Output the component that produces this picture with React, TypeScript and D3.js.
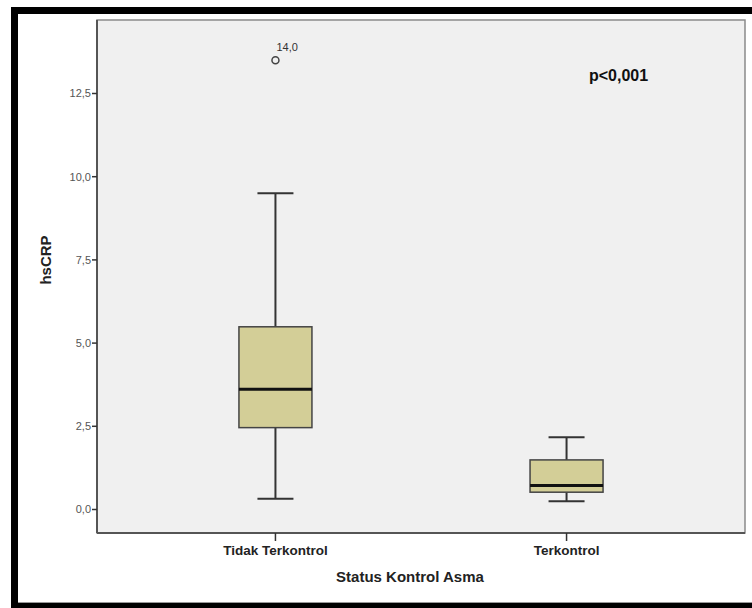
import React from "react";
import * as d3 from "d3";

const categories = ["Tidak Terkontrol", "Terkontrol"];
const whiskerLow = [0.32, 0.25];
const q1 = [2.46, 0.52];
const median = [3.61, 0.72];
const q3 = [5.49, 1.49];
const whiskerHigh = [9.5, 2.17];
const outliers = [{ cat: "Tidak Terkontrol", value: 13.5, label: "14,0" }];
const yTicks = [0, 2.5, 5, 7.5, 10, 12.5];

const W = 752;
const H = 608;
const plot = { left: 97, right: 745, top: 20, bottom: 533 };
const font = "Arial, 'Liberation Sans', sans-serif";

export default function App() {
  const x = d3.scalePoint<string>().domain(categories).range([plot.left, plot.right]).padding(0.613);
  const y = d3.scaleLinear().domain([0, 12.5]).range([509.5, 93.5]);
  const boxW = 73;
  const capW = 36;
  const fmt = (v: number) => v.toFixed(1).replace(".", ",");
  return (
    <svg width={W} height={H} style={{ position: "absolute", left: 0, top: 0, background: "#fff" }} fontFamily={font}>
      {/* outer frame */}
      <rect x={14.5} y={10.5} width={W} height={595} fill="#fff" stroke="#000" strokeWidth={7} />
      <line x1={18} x2={W} y1={602.5} y2={602.5} stroke="#999" strokeWidth={1} />
      {/* plot area */}
      <rect x={plot.left} y={plot.top} width={plot.right - plot.left} height={plot.bottom - plot.top} fill="#f0f0f0" stroke="#8a8a8a" strokeWidth={1.5} />
      <line x1={plot.left} x2={plot.left} y1={plot.top} y2={plot.bottom} stroke="#555" strokeWidth={2} />
      <line x1={plot.left} x2={plot.right} y1={plot.bottom} y2={plot.bottom} stroke="#555" strokeWidth={2} />
      {/* y ticks */}
      {yTicks.map((t) => (
        <g key={t}>
          <line x1={plot.left - 5} x2={plot.left} y1={y(t)} y2={y(t)} stroke="#333" strokeWidth={1.5} />
          <text x={plot.left - 6} y={y(t)} dy="0.35em" textAnchor="end" fontSize={11} fill="#555">
            {fmt(t)}
          </text>
        </g>
      ))}
      {/* x ticks */}
      {categories.map((c) => (
        <g key={c}>
          <line x1={x(c)!} x2={x(c)!} y1={plot.bottom} y2={plot.bottom + 8} stroke="#333" strokeWidth={1.5} />
          <text x={x(c)!} y={plot.bottom + 17} dy="0.35em" textAnchor="middle" fontSize={13.5} fontWeight="bold" fill="#222">
            {c}
          </text>
        </g>
      ))}
      {/* boxes */}
      {categories.map((c, i) => {
        const cx = x(c)!;
        return (
          <g key={c}>
            <line x1={cx} x2={cx} y1={y(q3[i])} y2={y(whiskerHigh[i])} stroke="#333" strokeWidth={2} />
            <line x1={cx} x2={cx} y1={y(q1[i])} y2={y(whiskerLow[i])} stroke="#333" strokeWidth={2} />
            <line x1={cx - capW / 2} x2={cx + capW / 2} y1={y(whiskerHigh[i])} y2={y(whiskerHigh[i])} stroke="#333" strokeWidth={2} />
            <line x1={cx - capW / 2} x2={cx + capW / 2} y1={y(whiskerLow[i])} y2={y(whiskerLow[i])} stroke="#333" strokeWidth={2} />
            <rect x={cx - boxW / 2} y={y(q3[i])} width={boxW} height={y(q1[i]) - y(q3[i])} fill="#d3ce97" stroke="#444" strokeWidth={1.5} />
            <line x1={cx - boxW / 2} x2={cx + boxW / 2} y1={y(median[i])} y2={y(median[i])} stroke="#111" strokeWidth={3} />
          </g>
        );
      })}
      {/* outliers */}
      {outliers.map((o, i) => (
        <g key={i}>
          <circle cx={x(o.cat)!} cy={y(o.value)} r={3.5} fill="none" stroke="#444" strokeWidth={1.5} />
          <text x={x(o.cat)! + 1} y={y(o.value) - 9} fontSize={11} fill="#333">
            {o.label}
          </text>
        </g>
      ))}
      {/* p value */}
      <text x={618.5} y={75} dy="0.35em" textAnchor="middle" fontSize={16} fontWeight="bold" fill="#111">
        p&lt;0,001
      </text>
      {/* axis titles */}
      <text transform={`translate(46,260) rotate(-90)`} textAnchor="middle" fontSize={15} fontWeight="bold" fill="#222" dy="0.35em">
        hsCRP
      </text>
      <text x={410} y={577} dy="0.35em" textAnchor="middle" fontSize={15} fontWeight="bold" fill="#222">
        Status Kontrol Asma
      </text>
    </svg>
  );
}
